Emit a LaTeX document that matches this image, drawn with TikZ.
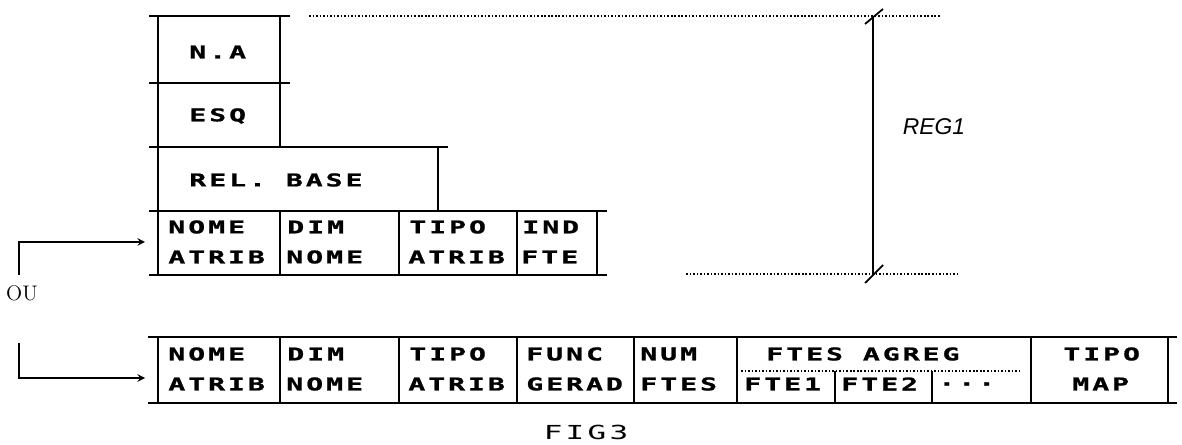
\documentclass[tikz,border=0pt]{standalone}
\usepackage{fontspec}
\usetikzlibrary{positioning}
\newfontfamily\cellfont[FakeStretch=1.6,LetterSpace=17,BoldFeatures={FakeBold=1.2}]{DejaVu Sans Mono}
\newfontfamily\regfont{Liberation Sans}

\begin{document}
\begin{tikzpicture}[x=0.02cm, y=-0.02cm,
        hrule/.style={line width=1.6pt},
        vrule/.style={line width=1.1pt},
        dots/.style={line width=0.9pt, dash pattern=on 0.9pt off 1.1pt},
        cell/.style={anchor=west, inner sep=0pt, font=\cellfont\bfseries\fontsize{10}{11}\selectfont},
        feed/.style={line width=0.9pt, -stealth}]
        \useasboundingbox (0,0) rectangle (1182,445);

        % upper record
        \begin{scope}
            \draw[hrule] (149,16) -- (290,16);
            \draw[hrule] (149,83) -- (290,83);
            \draw[hrule] (149,147) -- (448,147);
            \draw[hrule] (149,211) -- (607,211);
            \draw[hrule] (149,275) -- (607,275);
            \draw[vrule] (158,16) -- (158,275);
            \draw[vrule] (280,16) -- (280,147);
            \draw[vrule] (438,147) -- (438,211);
            \foreach \x in {280,399,517,597}
                \draw[vrule] (\x,211) -- (\x,275);

            \node[cell] (na) at (189,52) {N.A};
            \node[cell] (esq) at (189,116) {ESQ};
            \node[cell] (relbase) at (189,180) {REL. BASE};
            \node[cell] (nome1) at (168,227) {NOME};
            \node[cell] (atrib1) at (168,257) {ATRIB};
            \node[cell] (dim1) at (287,227) {DIM};
            \node[cell] (dnome1) at (286,257) {NOME};
            \node[cell] (tipo1) at (409,227) {TIPO};
            \node[cell] (tatrib1) at (408,257) {ATRIB};
            \node[cell] (ind) at (522,227) {IND};
            \node[cell] (fte) at (521,257) {FTE};
        \end{scope}

        % extent of REG1
        \coordinate (topl) at (309,16);
        \coordinate (topr) at (940,16);
        \coordinate (botl) at (686,274);
        \coordinate (botr) at (959,274);
        \coordinate (regtop) at (873,16);
        \coordinate (regbot) at (873,274);
        \draw[dots] (topl) -- (topr);
        \draw[dots] (botl) -- (botr);
        \draw[line width=1pt] (regtop) -- (regbot);
        \draw[line width=1pt] ([shift={(-8,8)}]regtop) -- ([shift={(10,-7)}]regtop);
        \draw[line width=1pt] ([shift={(-8,9)}]regbot) -- ([shift={(10,-9)}]regbot);
        \node[font=\regfont\itshape\fontsize{13}{14}\selectfont, inner sep=0pt] (reg) at (934,127) {REG1};

        % lower record
        \begin{scope}
            \draw[hrule] (148,337) -- (1177,337);
            \draw[hrule] (148,403) -- (1177,403);
            \foreach \x in {158,280,399,517,634,737,1031,1168}
                \draw[vrule] (\x,337) -- (\x,403);
            \foreach \x in {835,932}
                \draw[vrule] (\x,371) -- (\x,403);
            \draw[dots] (741,371) -- (1020,371);

            \node[cell] (nome2) at (168,354) {NOME};
            \node[cell] (atrib2) at (168,384) {ATRIB};
            \node[cell] (dim2) at (287,354) {DIM};
            \node[cell] (dnome2) at (286,384) {NOME};
            \node[cell] (tipo2) at (409,354) {TIPO};
            \node[cell] (tatrib2) at (408,384) {ATRIB};
            \node[cell] (func) at (526,354) {FUNC};
            \node[cell] (gerad) at (526,384) {GERAD};
            \node[cell] (num) at (640,354) {NUM};
            \node[cell] (ftes) at (640,384) {FTES};
            \node[cell] (agreg) at (766,354) {FTES AGREG};
            \node[cell] (fte1) at (744,384) {FTE1};
            \node[cell] (fte2) at (841,384) {FTE2};
            \node[cell] (etc) at (938,384) {...};
            \node[cell] (tipo3) at (1063,354) {TIPO};
            \node[cell] (map) at (1072,384) {MAP};
        \end{scope}

        % the two ways in
        \node[font=\fontsize{12}{13}\selectfont, inner sep=0pt] (ou) at (22,293) {OU};
        \coordinate (up) at (19,275);
        \coordinate (upin) at (145,242);
        \coordinate (down) at (19,343);
        \coordinate (downin) at (145,378);
        \draw[feed] (up) |- (upin);
        \draw[feed] (down) |- (downin);

        \node[font=\cellfont\fontsize{11}{12}\selectfont, inner sep=0pt] (fig) at (586,432) {FIG3};
    \end{tikzpicture}
\end{document}
